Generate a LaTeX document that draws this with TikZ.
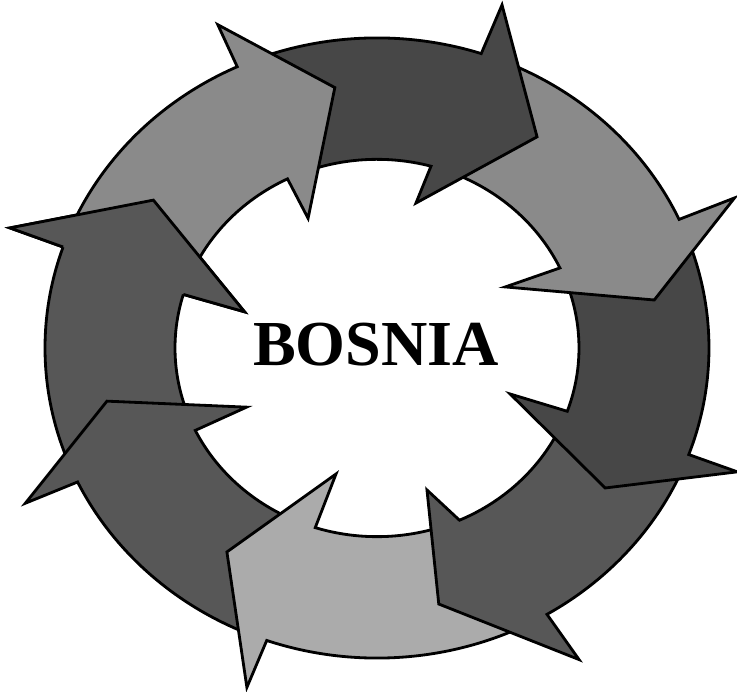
\documentclass[tikz,border=0pt]{standalone}
\usepackage{fontspec}
\setmainfont{Liberation Serif}
\begin{document}
\begin{tikzpicture}[x=0.02cm, y=0.02cm, line join=miter,
  arrowpart/.style={draw=black, line width=1.6pt},
  paleshade/.style={fill=black!33},
  lightshade/.style={fill=black!46},
  darkshade/.style={fill=black!66},
  deepshade/.style={fill=black!72}]
\useasboundingbox (-377,-344) rectangle (360,348);
% 八个箭头顺时针围成一圈
\begin{scope}[yscale=0.934]
\filldraw[arrowpart, darkshade] (202.9:202) -- (202.6:332) arc[start angle=202.6, end angle=161, radius=332] -- (160.7:389) -- (144.7:274) -- (163.7:138) -- (163.5:202) arc[start angle=163.5, end angle=202.9, radius=202] -- cycle;
\filldraw[arrowpart, darkshade] (249.2:202) -- (247.6:332) arc[start angle=247.6, end angle=205.6, radius=332] -- (205.3:389) -- (191.9:276) -- (205.9:145) -- (205.9:202) arc[start angle=205.9, end angle=249.2, radius=202] -- cycle;
\filldraw[arrowpart, paleshade] (291.1:202) -- (297.8:332) arc[start angle=297.8, end angle=250.6, radius=332] -- (250.3:386) -- (235.5:265) -- (253.1:141) -- (252.2:202) arc[start angle=252.2, end angle=291.1, radius=202] -- cycle;
\filldraw[arrowpart, darkshade] (-22.6:202) -- (-23.1:332) arc[start angle=-23.1, end angle=-59.2, radius=332] -- (-58.8:390) -- (-77.3:281) -- (-71.8:160) -- (-65.9:202) arc[start angle=-65.9, end angle=-22.6, radius=202] -- cycle;
\filldraw[arrowpart, deepshade] (22.1:202) -- (21.5:332) arc[start angle=21.5, end angle=-20.1, radius=332] -- (-20.2:384) -- (-33.3:273) -- (-20.3:142) -- (-19.6:202) arc[start angle=-19.6, end angle=22.1, radius=202] -- cycle;
\filldraw[arrowpart, lightshade] (71.5:202) -- (68.7:332) arc[start angle=68.7, end angle=24.5, radius=332] -- (24.2:392) -- (10.5:282) -- (27:144) -- (25.1:202) arc[start angle=25.1, end angle=71.5, radius=202] -- cycle;
\filldraw[arrowpart, deepshade] (113.3:202) -- (111.9:332) arc[start angle=111.9, end angle=71.7, radius=332] -- (71.2:388) -- (54.7:277) -- (75.9:160) -- (74.5:202) arc[start angle=74.5, end angle=113.3, radius=202] -- cycle;
\filldraw[arrowpart, lightshade] (160.5:202) -- (158:332) arc[start angle=158, end angle=114.9, radius=332] -- (114.7:381) -- (98.6:282) -- (116.4:155) -- (116.3:202) arc[start angle=116.3, end angle=160.5, radius=202] -- cycle;
% 左边箭头的头再画一次, 盖住第一个箭头的尾巴
\path[arrowpart, darkshade] (161:332) -- (160.7:389) -- (144.7:274) -- (163.7:138) -- (163.5:202);
\end{scope}
\node[font=\bfseries\fontsize{36.5}{40}\selectfont] (bosnia) at (-1,3) {BOSNIA};
\end{tikzpicture}
\end{document}
